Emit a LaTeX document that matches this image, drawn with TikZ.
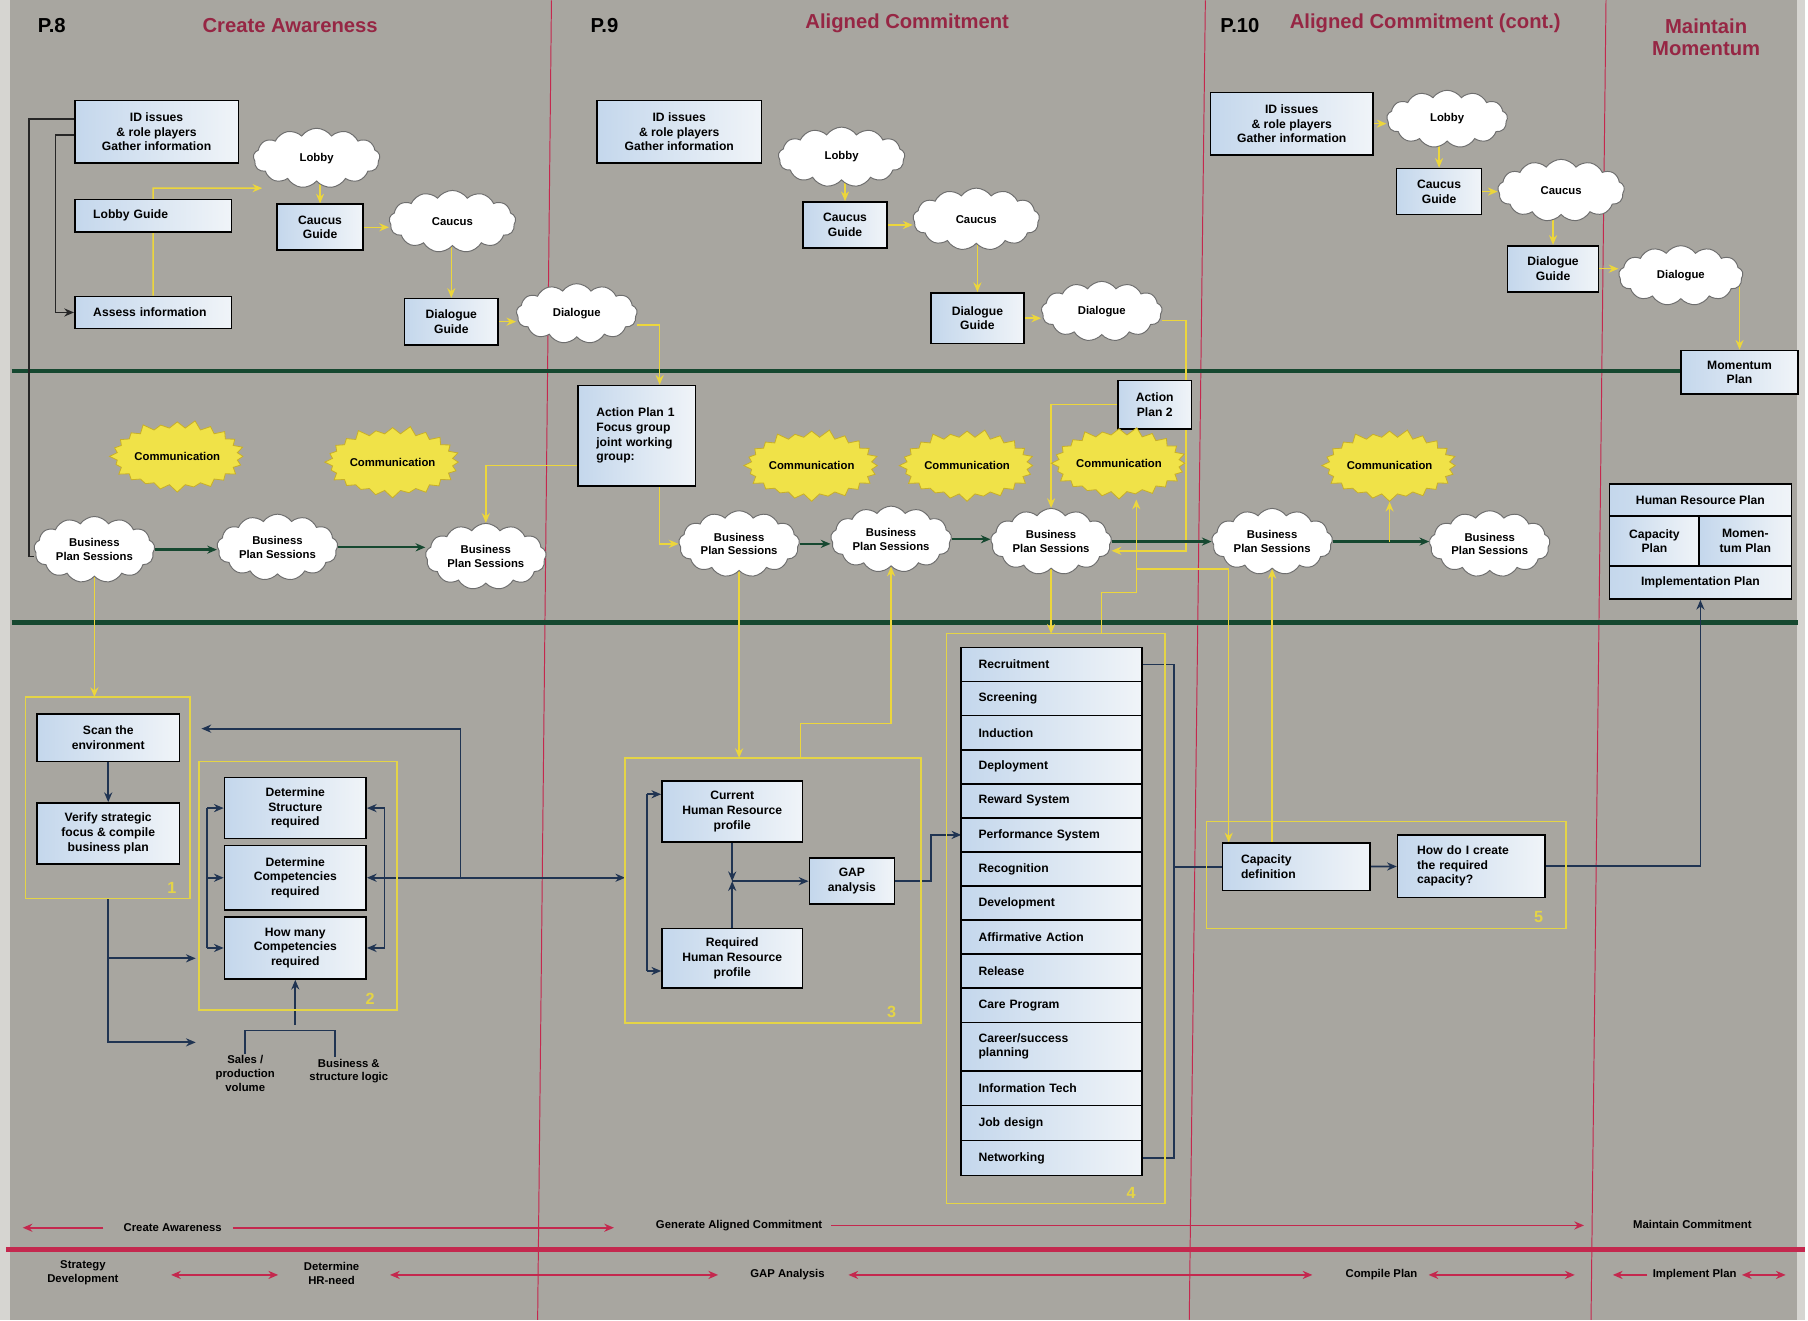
\documentclass[tikz,border=0pt]{standalone}
\usepackage{fontspec}
\setmainfont{Liberation Sans}
\usetikzlibrary{positioning, arrows.meta, shapes.symbols, calc, backgrounds}

\definecolor{paper}{RGB}{168,166,160}
\definecolor{edgepaper}{RGB}{214,213,209}
\definecolor{boxblue}{RGB}{196,215,236}
\definecolor{boxwhite}{RGB}{240,244,248}
\definecolor{cloudline}{RGB}{110,110,110}
\definecolor{burstfill}{RGB}{240,226,72}
\definecolor{burstline}{RGB}{200,175,40}
\definecolor{lineyellow}{RGB}{236,214,60}
\definecolor{grpyellow}{RGB}{228,212,70}
\definecolor{navy}{RGB}{32,52,82}
\definecolor{darkgreen}{RGB}{22,72,48}
\definecolor{crimson}{RGB}{196,40,78}
\definecolor{headred}{RGB}{150,38,68}

\newcommand{\bxfont}{\fontsize{7.5}{9}\selectfont\bfseries}
\newcommand{\hdfont}{\fontsize{12.5}{14}\selectfont\bfseries}
\newcommand{\ftfont}{\fontsize{7}{8.5}\selectfont\bfseries}

\pgfdeclarelayer{paperlayer}
\pgfdeclarelayer{linklayer}
\pgfsetlayers{paperlayer,linklayer,main}

\tikzset{
  wh/.style 2 args={minimum width=#1*0.025cm, minimum height=#2*0.025cm},
  box/.style={draw=black, line width=1pt, left color=boxblue, right color=boxwhite,
    font=\bxfont, align=center, inner sep=2pt},
  lbox/.style 2 args={box, align=left, text width=#1cm, inner xsep=#2cm},
  row/.style={box, align=left, text width=3.175cm, inner xsep=0.375cm, outer sep=0pt},
  cloudy/.style={cloud, cloud puffs=13, cloud puff arc=110, aspect=2, draw=cloudline,
    line width=0.6pt, fill=white, font=\ftfont, align=center, inner sep=0pt},
  burst/.style={starburst, starburst points=24, starburst point height=0.18cm,
    fill=burstfill, draw=burstline, line width=0.5pt, font=\ftfont, inner sep=0pt,
    minimum width=2.8cm, minimum height=1.6cm},
  grp/.style={draw=grpyellow, line width=1pt, inner sep=0pt, outer sep=0pt},
  grpnum/.style={text=grpyellow, font=\fontsize{10}{10}\selectfont\bfseries, inner sep=1pt},
  hd/.style={font=\hdfont, align=center, inner sep=1pt},
  small/.style={font=\ftfont, align=center, inner sep=1pt},
  foot/.style={font=\ftfont, align=center, inner sep=1pt},
  blk/.style={draw=black!85, line width=0.9pt},
  yl/.style={draw=lineyellow, line width=0.9pt},
  nv/.style={draw=navy, line width=1.1pt},
  gn/.style={draw=darkgreen, line width=1.4pt},
  redarr/.style={draw=crimson, line width=1pt}
}

\begin{document}
\begin{tikzpicture}[x=0.025cm, y=-0.025cm, >={Stealth[length=6pt, width=5pt]}]

  % --- paper, phase lines and bands ---
  \begin{pgfonlayer}{paperlayer}
    \fill[paper] (0,0) rectangle (1568,1146);
    \fill[edgepaper] (0,0) rectangle (9,1146);
    \fill[edgepaper] (1561,0) rectangle (1568,1146);
    \draw[crimson, line width=0.6pt] (479,0) -- (467,1146);
    \draw[crimson, line width=0.6pt] (1047,0) -- (1033,1146);
    \draw[crimson, line width=0.6pt] (1395,0) -- (1382,1146);
    \draw[darkgreen, line width=2.5pt] (10,322) -- (1562,322);
    \draw[darkgreen, line width=3.2pt] (10,540) -- (1562,540);
    \draw[crimson, line width=3.5pt] (5,1085) -- (1568,1085);
  \end{pgfonlayer}

  % --- headings ---
  \node[hd] (p8) at (45,22) {P.8};
  \node[hd, text=headred] (t8) at (252,22) {Create Awareness};
  \node[hd] (p9) at (525,22) {P.9};
  \node[hd, text=headred] (t9) at (788,20) {Aligned Commitment};
  \node[hd] (p10) at (1077,22) {P.10};
  \node[hd, text=headred] (t10) at (1238,20) {Aligned Commitment (cont.)};
  \node[hd, text=headred] (tmm) at (1482,32) {Maintain\\Momentum};

  % --- P.8 top ---
  \node[box, wh={142}{54}] (idA) at (136,114) {ID issues\\\& role players\\Gather information};
  \node[lbox={2.6}{0.4}, wh={136}{28}] (lobbyguideA) at (133,187) {Lobby Guide};
  \node[lbox={2.6}{0.4}, wh={136}{28}] (assessA) at (133,271) {Assess information};
  \node[cloudy, wh={110}{52}] (lobbyA) at (275,137) {Lobby};
  \node[box, wh={75}{40}] (caucusguideA) at (278,197) {Caucus\\Guide};
  \node[cloudy, wh={110}{54}] (caucusA) at (393,192) {Caucus};
  \node[box, wh={81}{40}] (dialogueguideA) at (392,279) {Dialogue\\Guide};
  \node[cloudy, wh={105}{52}] (dialogueA) at (501,272) {Dialogue};

  % --- P.9 top ---
  \node[box, wh={143}{54}] (idB) at (590,114) {ID issues\\\& role players\\Gather information};
  \node[cloudy, wh={110}{52}] (lobbyB) at (731,136) {Lobby};
  \node[box, wh={73}{40}] (caucusguideB) at (734,195) {Caucus\\Guide};
  \node[cloudy, wh={110}{54}] (caucusB) at (848,190) {Caucus};
  \node[box, wh={81}{44}] (dialogueguideB) at (849,276) {Dialogue\\Guide};
  \node[cloudy, wh={105}{52}] (dialogueB) at (957,270) {Dialogue};

  % --- P.10 top ---
  \node[box, wh={141}{54}] (idC) at (1122,107) {ID issues\\\& role players\\Gather information};
  \node[cloudy, wh={105}{50}] (lobbyC) at (1257,103) {Lobby};
  \node[box, wh={74}{40}] (caucusguideC) at (1250,166) {Caucus\\Guide};
  \node[cloudy, wh={110}{54}] (caucusC) at (1356,165) {Caucus};
  \node[box, wh={79}{40}] (dialogueguideC) at (1349,233) {Dialogue\\Guide};
  \node[cloudy, wh={108}{52}] (dialogueC) at (1460,239) {Dialogue};
  \node[box, wh={102}{38}] (momentum) at (1511,323) {Momentum\\Plan};

  % --- business plan band ---
  \node[lbox={1.75}{0.4}, wh={102}{87}] (actionA) at (553,378) {Action Plan 1\\Focus group\\joint working\\group:};
  \node[box, wh={64}{42}] (action2) at (1003,351) {Action\\Plan 2};
  \foreach \n/\x/\y in {c1/154/396, c2/341/401, c3/705/404, c4/840/404, c5/972/402, c6/1207/404}
    \node[burst] (\n) at (\x,\y) {Communication};
  \foreach \n/\x/\y in {b1/82/477, b2/241/475, b3/422/483, b4/642/472, b5/774/468, b6/913/470, b7/1105/470, b8/1294/472}
    \node[cloudy, wh={105}{52}] (\n) at (\x,\y) {Business\\Plan Sessions};

  \node[box, wh={158}{28}] (hrplan) at (1477,434) {Human Resource Plan};
  \node[box, wh={78}{43}] (capplan) at (1437,469.5) {Capacity\\Plan};
  \node[box, wh={80}{43}] (momplan) at (1516,469.5) {Momen-\\tum Plan};
  \node[box, wh={158}{29}] (implplan) at (1477,505.5) {Implementation Plan};

  % --- groups ---
  \node[grp, wh={143}{175}] (g1) at (93.5,692.5) {};
  \node[grp, wh={172}{216}] (g2) at (259,769) {};
  \node[grp, wh={257}{230}] (g3) at (671.5,773) {};
  \node[grp, wh={190}{495}] (g4) at (917,797.5) {};
  \node[grp, wh={312}{93}] (g5) at (1204,759.5) {};
  \node[grpnum, anchor=south east] (n1) at ($(g1.south east)+(-10,-3)$) {1};
  \node[grpnum, anchor=south east] (n2) at ($(g2.south east)+(-18,-3)$) {2};
  \node[grpnum, anchor=south east] (n3) at ($(g3.south east)+(-20,-3)$) {3};
  \node[grpnum, anchor=south east] (n4) at ($(g4.south east)+(-24,-3)$) {4};
  \node[grpnum, anchor=south east] (n5) at ($(g5.south east)+(-18,-3)$) {5};

  % --- P.8 bottom ---
  \node[box, wh={124}{41}] (scan) at (94,640.5) {Scan the\\environment};
  \node[box, wh={124}{53}] (verify) at (94,723.5) {Verify strategic\\focus \& compile\\business plan};
  \node[box, wh={123}{53}] (detstruct) at (256.5,701.5) {Determine\\Structure\\required};
  \node[box, wh={123}{56}] (detcomp) at (256.5,762) {Determine\\Competencies\\required};
  \node[box, wh={123}{54}] (howmany) at (256.5,823) {How many\\Competencies\\required};
  \node[small] (sales) at (213,932) {Sales /\\production\\volume};
  \node[small] (bizlogic) at (303,930) {Business \&\\structure logic};

  % --- P.9 bottom ---
  \node[box, wh={122}{53}] (current) at (636,704.5) {Current\\Human Resource\\profile};
  \node[box, wh={122}{52}] (required) at (636,832) {Required\\Human Resource\\profile};
  \node[box, wh={74}{40}] (gap) at (740,765) {GAP\\analysis};

  \node[row, wh={157}{29.6}, anchor=north] (rec) at (913.5,562) {Recruitment};
  \node[row, wh={157}{29.6}, below=0pt of rec] (scr) {Screening};
  \node[row, wh={157}{29.6}, below=0pt of scr] (ind) {Induction};
  \node[row, wh={157}{29.6}, below=0pt of ind] (dep) {Deployment};
  \node[row, wh={157}{29.6}, below=0pt of dep] (rew) {Reward System};
  \node[row, wh={157}{29.6}, below=0pt of rew] (perf) {Performance System};
  \node[row, wh={157}{29.6}, below=0pt of perf] (recog) {Recognition};
  \node[row, wh={157}{29.6}, below=0pt of recog] (dev) {Development};
  \node[row, wh={157}{29.6}, below=0pt of dev] (aff) {Affirmative Action};
  \node[row, wh={157}{29.6}, below=0pt of aff] (rel) {Release};
  \node[row, wh={157}{29.6}, below=0pt of rel] (care) {Care Program};
  \node[row, wh={157}{42}, below=0pt of care] (career) {Career/success\\planning};
  \node[row, wh={157}{30.3}, below=0pt of career] (info) {Information Tech};
  \node[row, wh={157}{30.3}, below=0pt of info] (job) {Job design};
  \node[row, wh={157}{30.3}, below=0pt of job] (net) {Networking};

  % --- P.10 bottom ---
  \node[lbox={2.4}{0.4}, wh={128}{41}] (capdef) at (1126,752.5) {Capacity\\definition};
  \node[lbox={2.35}{0.425}, wh={128}{54}] (howcreate) at (1278,752) {How do I create\\the required\\capacity?};

  % --- footer ---
  \node[foot] (ca) at (150,1066) {Create Awareness};
  \node[foot] (ga) at (642,1064) {Generate Aligned Commitment};
  \node[foot] (mc) at (1470,1063) {Maintain Commitment};
  \node[foot] (strat) at (72,1105) {Strategy\\Development};
  \node[foot] (hrneed) at (288,1106) {Determine\\HR-need};
  \node[foot] (gapA) at (684,1107) {GAP Analysis};
  \node[foot] (compile) at (1200,1107) {Compile Plan};
  \node[foot] (implement) at (1472,1107) {Implement Plan};

  % --- connectors ---
  \begin{pgfonlayer}{linklayer}
    % P.8 top
    \draw[blk] ($(idA.west)+(0,-11)$) -| (25,483) -- (b1.west |- 0,483);
    \draw[blk,->] ($(idA.west)+(0,3)$) -| (48,271) -- (assessA.west);
    \draw[yl,->] (assessA.north) -- (assessA.north |- 0,163) -- ($(lobbyA.west)+(8,26)$);
    \draw[yl,->] (lobbyA.south -| caucusguideA.north) -- (caucusguideA.north);
    \draw[yl,->] (caucusguideA.east) -- (caucusguideA.east -| caucusA.west);
    \draw[yl,->] (caucusA.south -| dialogueguideA.north) -- (dialogueguideA.north);
    \draw[yl,->] (dialogueguideA.east) -- (dialogueguideA.east -| dialogueA.west);
    \draw[yl,->] ($(dialogueA.east)+(0,10)$) -| ($(actionA.north)+(20,0)$);

    % P.9 top
    \coordinate (dlgturn) at (1030,478);
    \draw[yl,->] (lobbyB.south -| caucusguideB.north) -- (caucusguideB.north);
    \draw[yl,->] (caucusguideB.east) -- (caucusguideB.east -| caucusB.west);
    \draw[yl,->] (caucusB.south -| dialogueguideB.north) -- (dialogueguideB.north);
    \draw[yl,->] (dialogueguideB.east) -- (dialogueguideB.east -| dialogueB.west);
    \draw[yl,->] ($(dialogueB.east)+(0,8)$) -| (dlgturn) -- (b6.east |- dlgturn);

    % P.10 top
    \draw[yl,->] (idC.east) -- (idC.east -| lobbyC.west);
    \draw[yl,->] (lobbyC.south -| caucusguideC.north) -- (caucusguideC.north);
    \draw[yl,->] (caucusguideC.east) -- (caucusguideC.east -| caucusC.west);
    \draw[yl,->] (caucusC.south -| dialogueguideC.north) -- (dialogueguideC.north);
    \draw[yl,->] (dialogueguideC.east) -- (dialogueguideC.east -| dialogueC.west);
    \draw[yl,->] (momentum.north |- dialogueC.east) -- (momentum.north);

    % business plan band
    \draw[yl,->] ($(actionA.west)+(0,26)$) -| (b3.north);
    \draw[yl,->] ($(actionA.south)+(20,0)$) |- (b4.west);
    \draw[yl,->] (action2.west) -| (b6.north);
    \draw[gn,->] (b1.east) -- (b1.east -| b2.west);
    \draw[gn,->] (b2.east) -- (b2.east -| b3.west);
    \draw[gn,->] (b4.east) -- (b4.east -| b5.west);
    \draw[gn,->] (b5.east) -- (b5.east -| b6.west);
    \draw[gn,->] (b6.east) -- (b6.east -| b7.west);
    \draw[gn,->] (b7.east) -- (b7.east -| b8.west);
    \draw[yl,->] (c6.south |- b7.east) -- (c6.south);

    % links down to the groups
    \coordinate (c5foot) at (987,514);
    \draw[yl,->] (b1.south) -- (b1.south |- g1.north);
    \draw[yl,->] (b4.south) -- (b4.south |- g3.north);
    \draw[yl,->] ($(g3.north)+(24,0)$) -- ++(0,-30) -| (b5.south);
    \draw[yl,->] (b6.south) -- (b6.south |- g4.north);
    \draw[yl,->] ($(g4.north)+(40,0)$) |- (c5foot) -- (c5foot |- c5.south);
    \draw[yl,->] (c5foot |- 0,494) -| ($(capdef.north west)+(6,0)$);
    \draw[yl,->] (capdef.north -| b7.south) -- (b7.south);

    % P.8 bottom
    \draw[nv,->] (scan) -- (verify);
    \draw[nv,->] (g1.south) |- ($(g2.west)+(-3,136)$);
    \draw[nv,->] (g1.south |- 0,832) -- ($(g2.west)+(-3,63)$);
    \draw[nv] (detstruct.west -| 180,0) -- (howmany.west -| 180,0);
    \draw[nv] (detstruct.east -| 334,0) -- (howmany.east -| 334,0);
    \foreach \b in {detstruct,detcomp,howmany} {
      \draw[nv,->] (\b.west -| 180,0) -- (\b.west);
      \draw[nv,->] (\b.east -| 334,0) -- (\b.east);
    }
    \draw[nv,->] (detcomp.east -| 334,0) -- (detcomp.east -| g3.west);
    \draw[nv,->] (detcomp.east -| 400,0) |- ($(g1.east)+(10,-60)$);
    \draw[nv] (sales.north) -- ++(0,-20) -| ($(bizlogic.north)+(-12,0)$);
    \draw[nv,->] (howmany.south |- 0,890) -- (howmany.south);

    % P.9 bottom
    \coordinate (gapjoin) at (636,765);
    \draw[nv] ($(current.west)+(-12,-15)$) -- ($(required.west)+(-12,11)$);
    \draw[nv,->] ($(current.west)+(-12,-15)$) -- ($(current.west)+(0,-15)$);
    \draw[nv,->] ($(required.west)+(-12,11)$) -- ($(required.west)+(0,11)$);
    \draw[nv,->] (current.south) -- (gapjoin);
    \draw[nv,->] (required.north) -- (gapjoin);
    \draw[nv,->] (gapjoin) -- (gap.west);
    \draw[nv,->] (gap.east) -- ++(31,0) |- (perf.west);
    \draw[nv] (rec.east) -- ++(28,0) |- (net.east);
    \draw[nv] (capdef.west -| 1020,0) -- (capdef.west);

    % P.10 bottom
    \draw[nv,->] (capdef) -- (howcreate);
    \draw[nv,->] (howcreate.east) -| (implplan.south);

    % footer arrows
    \draw[redarr,->] ($(ca.west)+(-16,0)$) -- ($(ca.west)+(-86,0)$);
    \draw[redarr,->] ($(ca.east)+(8,0)$) -- ($(ca.east)+(339,0)$);
    \draw[redarr,->] ($(ga.east)+(6,0)$) -- ($(ga.east)+(660,0)$);
    \draw[redarr,<->] ($(strat.east)+(44,2)$) -- ($(strat.east)+(137,2)$);
    \draw[redarr,<->] ($(hrneed.east)+(25,1)$) -- ($(hrneed.east)+(310,1)$);
    \draw[redarr,<->] ($(gapA.east)+(19,0)$) -- ($(gapA.east)+(422,0)$);
    \draw[redarr,<->] ($(compile.east)+(8,0)$) -- ($(compile.east)+(135,0)$);
    \draw[redarr,->] ($(implement.west)+(-3,0)$) -- ($(implement.west)+(-33,0)$);
    \draw[redarr,<->] ($(implement.east)+(3,0)$) -- ($(implement.east)+(41,0)$);
  \end{pgfonlayer}

\end{tikzpicture}
\end{document}
